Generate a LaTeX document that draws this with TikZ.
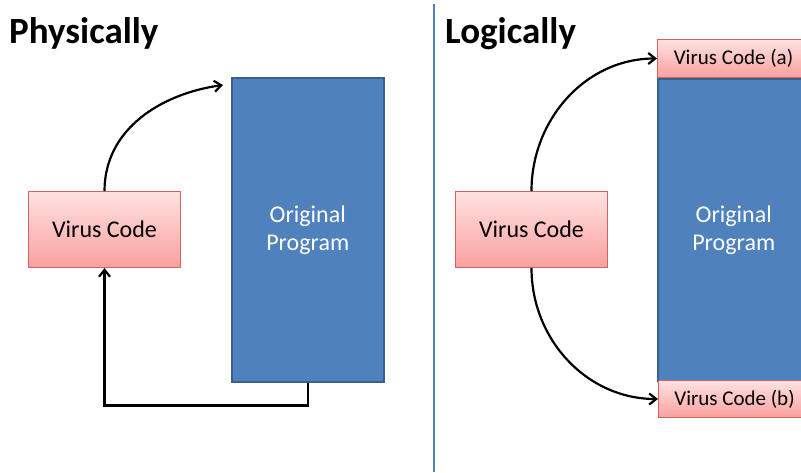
\documentclass[tikz,border=0pt]{standalone}
\usepackage{fontspec}
\setmainfont{Carlito}
\usetikzlibrary{arrows.meta,positioning}
\definecolor{progblue}{HTML}{4F81BD}
\definecolor{progedge}{HTML}{3A5F8C}
\definecolor{virtop}{HTML}{FFE2E2}
\definecolor{virbot}{HTML}{F9A09E}
\definecolor{viredge}{HTML}{D06464}
\begin{document}
\begin{tikzpicture}[x=1pt,y=-1pt,line cap=butt,line join=miter,>={Straight Barb[length=7pt,width=11pt]}]
	\tikzset{virus/.style={draw=viredge,line width=1pt,top color=virtop,bottom color=virbot,anchor=north west,inner sep=0pt,font=\fontsize{24}{28}\selectfont},
		prog/.style={draw=progedge,line width=1.5pt,fill=progblue,anchor=north west,inner sep=0pt,text=white,align=center,font=\fontsize{24}{28}\selectfont},
		title/.style={anchor=base west,inner sep=0pt,font=\fontsize{37}{42}\selectfont\bfseries},
		link/.style={->,line width=2.2pt}}
	\useasboundingbox (0,0) rectangle (801,472);
	\clip (0,0) rectangle (801,472);
	% physically
	\node[title] (tphys) at (9,43) {Physically};
	\node[virus,minimum width=152pt,minimum height=76pt] (vphys) at (28,191) {Virus Code};
	\node[prog,minimum width=152pt,minimum height=304pt] (pphys) at (231,77) {Original\\Program};
	\coordinate (hphys) at (223,85);
	\draw[link] (vphys.north) to[out=90,in=188] (hphys);
	\draw[link] (pphys.south) -- ++(0,23) -| (vphys.south);
	% divider
	\draw[progblue,line width=1.5pt] (434,4) -- (434,472);
	% logically
	\node[title] (tlog) at (445,43) {Logically};
	\node[virus,minimum width=152pt,minimum height=76pt] (vlog) at (455,191) {Virus Code};
	\node[virus,minimum width=152pt,minimum height=38pt,font=\fontsize{21}{24}\selectfont] (vla) at (657,39) {Virus Code (a)};
	\node[prog,minimum width=152pt,minimum height=302pt] (plog) at (657,78) {Original\\Program};
	\node[virus,minimum width=152pt,minimum height=37pt,font=\fontsize{21}{24}\selectfont] (vlb) at (658,380) {Virus Code (b)};
	\draw[link] (vlog.north) to[out=90,in=180] (vla.west);
	\draw[link] (vlog.south) to[out=-90,in=180] (vlb.west);
\end{tikzpicture}
\end{document}
